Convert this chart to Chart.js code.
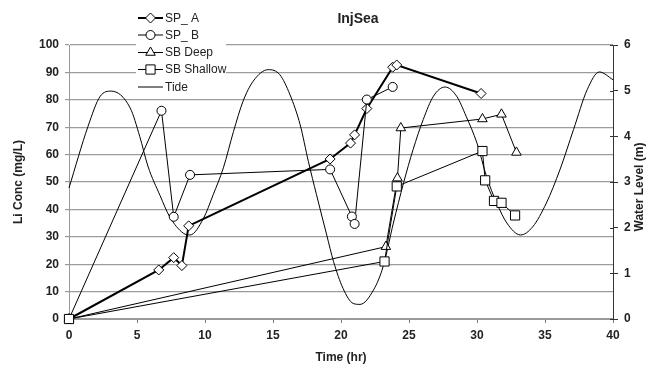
<!DOCTYPE html>
<html>
<head>
<meta charset="utf-8">
<title>InjSea</title>
<script src="https://cdn.jsdelivr.net/npm/chart.js@4.4.1/dist/chart.umd.min.js"></script>
<style>
  html, body { margin: 0; padding: 0; background: #fff; }
  #wrap { position: relative; width: 656px; height: 368px; }
</style>
</head>
<body>
<div id="wrap"><canvas id="chartCanvas" width="656" height="368"></canvas></div>
<script>
// time (hr) / Li concentration (mg/L)
const spATime = [0, 6.6, 7.7, 8.3, 8.8, 19.2, 20.7, 21.0, 21.9, 23.8, 24.1, 30.3];
const spAConc = [0, 17.9, 22.4, 19.5, 34.0, 58.4, 64.2, 67.2, 76.8, 91.9, 92.7, 82.3];

const spBTime = [0, 6.8, 7.7, 8.9, 19.2, 20.8, 21.0, 21.9, 23.8];
const spBConc = [0, 76.0, 37.3, 52.6, 54.6, 37.4, 34.7, 80.1, 84.7];

const deepTime = [0, 23.3, 24.15, 24.4, 30.4, 31.8, 32.9];
const deepConc = [0, 26.4, 51.4, 69.7, 73.0, 74.7, 60.8];

const shallowTime = [0, 23.2, 24.1, 30.4, 30.6, 31.25, 31.8, 32.8];
const shallowConc = [0, 21.0, 48.4, 61.3, 50.6, 43.1, 42.4, 37.8];

// tide, water level (m) on the right axis
const tideTime = [0, 1.4, 2.3, 3.1, 4.5, 5.2, 5.8, 6.7, 7.4, 8.4, 8.9, 9.9, 10.6, 11.35, 12.1, 12.8,
  13.55, 14.65, 15.5, 16.25, 17.0, 17.6, 18.2, 18.95, 19.45, 20.15, 20.9, 21.4, 22.4, 23.1, 23.85,
  24.6, 25.3, 26.05, 26.8, 27.65, 28.5, 29.2, 30.0, 30.7, 31.45, 32.2, 33.2, 34.1, 35.1, 36.1,
  37.1, 38.1, 39.0, 40];
const tideLevel = [2.87, 4.22, 4.88, 4.99, 4.62, 4.0, 3.35, 2.7, 2.24, 1.88, 1.84, 2.21, 2.72, 3.31, 4.11, 4.77,
  5.21, 5.46, 5.35, 4.91, 4.25, 3.45, 2.72, 1.84, 1.26, 0.67, 0.34, 0.32, 0.64, 1.15, 2.10,
  2.98, 3.71, 4.37, 4.88, 5.08, 4.88, 4.44, 3.85, 3.12, 2.54, 2.10, 1.84, 2.02, 2.54, 3.27,
  4.15, 5.02, 5.41, 5.24];

const timeTicks = [0, 5, 10, 15, 20, 25, 30, 35, 40];

document.addEventListener('DOMContentLoaded', () => {
  const FONT = "'Liberation Sans', Arial, Helvetica, sans-serif";
  const TXT = '#222';
  Chart.defaults.font.family = FONT;
  Chart.defaults.color = TXT;

  const toPoints = (xs, ys) => xs.map((x, i) => ({ x: x, y: ys[i] }));

  const series = [
    { label: 'SP_ A', x: spATime, y: spAConc, style: 'rectRot', r: 5, width: 2, order: 3 },
    { label: 'SP_ B', x: spBTime, y: spBConc, style: 'circle', r: 4.5, width: 1, order: 2 },
    { label: 'SB Deep', x: deepTime, y: deepConc, style: 'triangle', r: 5.5, width: 1, order: 1 },
    { label: 'SB Shallow', x: shallowTime, y: shallowConc, style: 'rect', r: 6.5, width: 1, order: 0 }
  ];

  const datasets = series.map(s => ({
    label: s.label,
    data: toPoints(s.x, s.y),
    yAxisID: 'y',
    borderColor: '#000',
    borderWidth: s.width,
    pointStyle: s.style,
    pointRadius: s.r,
    pointBackgroundColor: '#fff',
    pointBorderColor: '#000',
    pointBorderWidth: 1,
    tension: 0,
    clip: false,
    order: s.order
  }));

  datasets.push({
    label: 'Tide',
    data: toPoints(tideTime, tideLevel),
    yAxisID: 'y1',
    borderColor: '#000',
    borderWidth: 1,
    pointRadius: 0,
    cubicInterpolationMode: 'monotone',
    clip: false,
    order: 4
  });

  // title, legend box, reversed right-axis title, right-axis cross ticks
  const decor = {
    id: 'decor',
    afterDraw(chart) {
      const c = chart.ctx;
      c.save();
      c.fillStyle = TXT;
      c.font = 'bold 14px ' + FONT;
      c.textAlign = 'center';
      c.textBaseline = 'middle';
      c.fillText('InjSea', 358, 19);

      const r = chart.scales.y1;
      c.font = 'bold 12px ' + FONT;
      c.translate(640, (chart.chartArea.top + chart.chartArea.bottom) / 2 + 5);
      c.rotate(-Math.PI / 2);
      c.fillText('Water Level (m)', 0, 0);
      c.setTransform(1, 0, 0, 1, 0, 0);

      c.strokeStyle = '#333';
      c.lineWidth = 1;
      r.ticks.forEach(t => {
        const py = Math.round(r.getPixelForValue(t.value)) + 0.5;
        c.beginPath();
        c.moveTo(r.left - 3, py);
        c.lineTo(r.left, py);
        c.stroke();
      });

      // legend
      c.fillStyle = '#fff';
      c.fillRect(136, 5, 90, 92);
      const rows = [18, 35, 52.5, 69.5, 87];
      const items = series.map(s => ({ label: s.label, style: s.style, r: s.r, width: s.width }))
        .concat([{ label: 'Tide', style: false, r: 0, width: 1 }]);
      items.forEach((it, i) => {
        const y = rows[i];
        c.strokeStyle = '#000';
        c.lineWidth = it.width;
        c.beginPath();
        c.moveTo(138, y);
        c.lineTo(163, y);
        c.stroke();
        if (it.style) {
          c.fillStyle = '#fff';
          c.lineWidth = 1;
          Chart.helpers.drawPoint(c, { pointStyle: it.style, radius: it.r, borderWidth: 1, rotation: 0 }, 150.5, y);
        }
        c.fillStyle = TXT;
        c.font = '12px ' + FONT;
        c.textAlign = 'left';
        c.textBaseline = 'middle';
        c.fillText(it.label, 165, y + 0.5);
      });
      c.restore();
    }
  };

  const canvas = document.getElementById('chartCanvas');
  const ctx = canvas.getContext('2d');

  new Chart(ctx, {
    type: 'line',
    data: { datasets: datasets },
    options: {
      responsive: false,
      animation: false,
      layout: { padding: { top: 45, left: 0, right: 0, bottom: 0 } },
      plugins: {
        legend: { display: false },
        tooltip: { enabled: false }
      },
      scales: {
        x: {
          type: 'linear',
          min: 0,
          max: 40,
          afterBuildTicks: s => { s.ticks = timeTicks.map(v => ({ value: v })); },
          ticks: { font: { size: 12, weight: 'bold' }, color: TXT, padding: 5, maxRotation: 0 },
          grid: { drawOnChartArea: false, tickLength: 4, color: '#777' },
          border: { color: '#999', width: 1 },
          title: { display: true, text: 'Time (hr)', color: TXT, font: { size: 12, weight: 'bold' }, padding: { top: 0, bottom: 3 } },
          afterFit: s => { s.height = 49; }
        },
        y: {
          position: 'left',
          min: 0,
          max: 100,
          ticks: { stepSize: 10, font: { size: 12, weight: 'bold' }, color: TXT, padding: 6 },
          grid: { color: '#9c9c9c', lineWidth: 1.2, tickLength: 4, tickColor: '#999' },
          border: { color: '#999', width: 1 },
          title: { display: true, text: 'Li Conc (mg/L)', color: TXT, font: { size: 12, weight: 'bold' }, padding: { top: 11, bottom: 0 } },
          afterFit: s => { s.width = 69; }
        },
        y1: {
          position: 'right',
          min: 0,
          max: 6,
          ticks: { stepSize: 1, font: { size: 12, weight: 'bold' }, color: TXT, padding: 6 },
          grid: { drawOnChartArea: false, tickLength: 5, tickColor: '#333' },
          border: { color: '#333', width: 1 },
          afterFit: s => { s.width = 43; }
        }
      }
    },
    plugins: [decor]
  });
});
</script>
</body>
</html>
